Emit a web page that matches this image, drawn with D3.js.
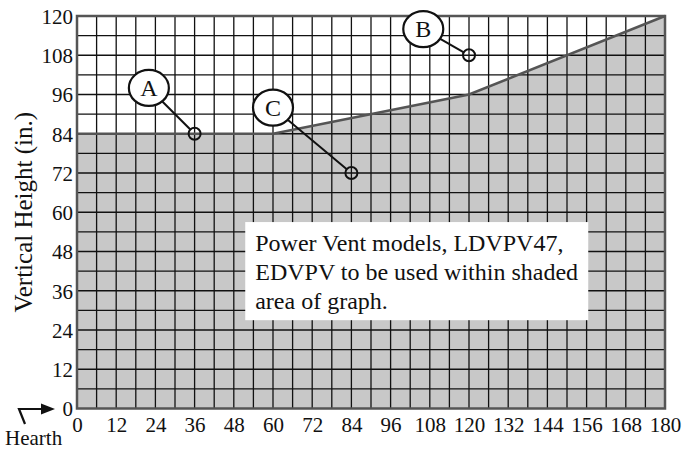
<!DOCTYPE html>
<html>
<head>
<meta charset="utf-8">
<script src="https://cdn.jsdelivr.net/npm/d3@7"></script>
<style>
  html, body { margin: 0; padding: 0; background: #fff; }
  svg { display: block; }
  text { font-family: "Liberation Serif", "Times New Roman", serif; fill: #111; }
</style>
</head>
<body>
<svg id="chart" width="682" height="449"></svg>
<script>
// ---- data ----
const boundaryX = [0, 60, 120, 180];          // horizontal distance (in.)
const boundaryY = [84, 84, 96, 120];          // vertical height (in.)
const xTickValues = [0, 12, 24, 36, 48, 60, 72, 84, 96, 108, 120, 132, 144, 156, 168, 180];
const yTickValues = [0, 12, 24, 36, 48, 60, 72, 84, 96, 108, 120];
const markerLabels = ["A", "B", "C"];
const markerLabelX = [22, 106, 60];
const markerLabelY = [98, 116, 92];
const markerPointX = [36, 120, 84];
const markerPointY = [84, 108, 72];
const noteLines = ["Power Vent models, LDVPV47,", "EDVPV to be used within shaded", "area of graph."];
const yAxisTitle = "Vertical Height (in.)";
const originLabel = "Hearth";

// ---- layout ----
const svg = d3.select("#chart");
const pL = 77, pR = 665, pT = 16, pB = 408.5;
const x = d3.scaleLinear().domain([0, 180]).range([pL, pR]);
const y = d3.scaleLinear().domain([0, 120]).range([pB, pT]);

// shaded area
const pts = boundaryX.map((v, i) => [v, boundaryY[i]]);
svg.append("path")
  .datum(pts)
  .attr("d", d3.area().x(d => x(d[0])).y0(y(0)).y1(d => y(d[1])))
  .attr("fill", "#c8c8c8");

// grid
const grid = svg.append("g");
grid.selectAll("line.v").data(d3.range(6, 180, 6)).join("line")
  .attr("class", "v")
  .attr("x1", d => x(d)).attr("x2", d => x(d))
  .attr("y1", pT).attr("y2", pB)
  .attr("stroke", "#111").attr("stroke-width", 1.3);
grid.selectAll("line.h").data(d3.range(6, 120, 6)).join("line")
  .attr("class", "h")
  .attr("y1", d => y(d)).attr("y2", d => y(d))
  .attr("x1", pL).attr("x2", pR)
  .attr("stroke", "#111").attr("stroke-width", 1.3);

// boundary line
svg.append("path")
  .datum(pts)
  .attr("d", d3.line().x(d => x(d[0])).y(d => y(d[1])))
  .attr("fill", "none").attr("stroke", "#555").attr("stroke-width", 2.5);

// frame
svg.append("rect")
  .attr("x", pL).attr("y", pT)
  .attr("width", pR - pL).attr("height", pB - pT)
  .attr("fill", "none").attr("stroke", "#555").attr("stroke-width", 2.5);

// note box
const box = svg.append("g");
box.append("rect")
  .attr("x", x(51.5)).attr("y", y(57))
  .attr("width", x(156.5) - x(51.5)).attr("height", y(27) - y(57))
  .attr("fill", "#fff");
box.selectAll("text").data(noteLines).join("text")
  .attr("x", x(51.5) + 10)
  .attr("y", (d, i) => y(57) + 29 + i * 29)
  .attr("font-size", 24)
  .text(d => d);

// axes
const xAxis = svg.append("g")
  .attr("transform", `translate(0,${pB})`)
  .call(d3.axisBottom(x).tickValues(xTickValues).tickSize(0).tickFormat(d3.format("d")));
xAxis.select(".domain").remove();
xAxis.selectAll("text").attr("y", 23.5).attr("dy", 0)
  .attr("font-size", 21).attr("fill", "#111")
  .attr("font-family", "'Liberation Serif', 'Times New Roman', serif");

const yAxis = svg.append("g")
  .attr("transform", `translate(${pL},0)`)
  .call(d3.axisLeft(y).tickValues(yTickValues).tickSize(0).tickPadding(4).tickFormat(d3.format("d")));
yAxis.select(".domain").remove();
yAxis.selectAll("text").attr("dy", "0.35em")
  .attr("font-size", 21).attr("fill", "#111")
  .attr("font-family", "'Liberation Serif', 'Times New Roman', serif");

// y axis title
svg.append("text")
  .attr("transform", `translate(32,${(pT + pB) / 2}) rotate(-90)`)
  .attr("text-anchor", "middle")
  .attr("font-size", 25)
  .text(yAxisTitle);

// hearth arrow + label
svg.append("path")
  .attr("d", "M25,424 L19,409 L43,409")
  .attr("fill", "none").attr("stroke", "#111").attr("stroke-width", 2.2);
svg.append("path")
  .attr("d", "M41,403.5 L55,409 L41,414.5 Z")
  .attr("fill", "#111");
svg.append("text")
  .attr("x", 5).attr("y", 445)
  .attr("font-size", 21)
  .text(originLabel);

// markers
const rx = 20, ry = 18, pr = 6;
const markers = markerLabels.map((l, i) => ({
  l, lx: x(markerLabelX[i]), ly: y(markerLabelY[i]), px: x(markerPointX[i]), py: y(markerPointY[i])
}));
const mg = svg.append("g");
markers.forEach(m => {
  const dx = m.px - m.lx, dy = m.py - m.ly, len = Math.hypot(dx, dy);
  mg.append("line")
    .attr("x1", m.lx).attr("y1", m.ly)
    .attr("x2", m.px - dx / len * pr).attr("y2", m.py - dy / len * pr)
    .attr("stroke", "#111").attr("stroke-width", 2);
  mg.append("ellipse")
    .attr("cx", m.lx).attr("cy", m.ly).attr("rx", rx).attr("ry", ry)
    .attr("fill", "#fff").attr("stroke", "#111").attr("stroke-width", 2.2);
  mg.append("text")
    .attr("x", m.lx).attr("y", m.ly).attr("dy", "0.35em")
    .attr("text-anchor", "middle").attr("font-size", 24)
    .text(m.l);
  mg.append("circle")
    .attr("cx", m.px).attr("cy", m.py).attr("r", pr)
    .attr("fill", "none").attr("stroke", "#111").attr("stroke-width", 2);
});
</script>
</body>
</html>
